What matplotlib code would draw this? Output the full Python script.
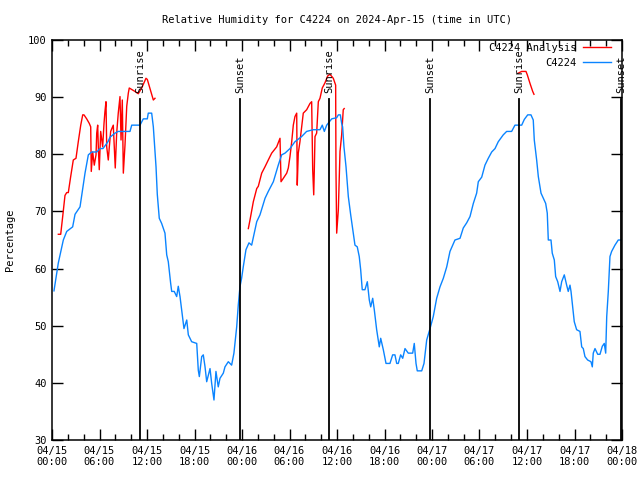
import numpy as np
import matplotlib
matplotlib.use('Agg')
import matplotlib.pyplot as plt
from datetime import datetime, timedelta

# hours since 2024-04-15 00:00 UTC
station_hours = [
    0.25, 0.80, 1.43, 1.86, 2.61, 2.91, 3.54, 3.88, 4.17, 4.59, 5.01, 5.65, 6.06, 6.44,
    7.07, 7.33, 7.96, 8.34, 9.85, 10.07, 11.12, 11.53, 12.04, 12.16, 12.59, 12.80, 13.14,
    13.30, 13.55, 13.85, 14.27, 14.49, 14.69, 14.99, 15.12, 15.44, 15.75, 15.95, 16.17,
    16.38, 16.67, 17.02, 17.22, 17.64, 18.28, 18.48, 18.61, 18.91, 19.11, 19.33, 19.54,
    19.96, 20.17, 20.46, 20.71, 21.00, 21.22, 21.64, 21.85, 22.27, 22.69, 22.98, 23.33,
    23.53, 23.74, 23.95, 24.16, 24.50, 24.88, 25.22, 25.86, 26.27, 26.91, 27.32, 27.96,
    28.58, 29.01, 29.43, 30.06, 30.69, 31.53, 32.16, 33.00, 33.85, 34.14, 34.40, 34.70,
    35.33, 35.96, 36.17, 36.42, 36.59, 36.71, 36.88, 37.14, 37.43, 37.73, 38.06, 38.27,
    38.56, 38.81, 38.99, 39.19, 39.53, 39.83, 40.08, 40.26, 40.51, 40.71, 41.01, 41.34,
    41.52, 41.85, 42.19, 42.69, 43.03, 43.32, 43.54, 43.74, 44.04, 44.30, 44.59, 45.00,
    45.56, 45.76, 45.98, 46.14, 46.70, 46.99, 47.33, 47.75, 48.16, 48.59, 49.01, 49.43,
    49.86, 50.27, 50.90, 51.54, 51.95, 52.38, 52.80, 53.22, 53.64, 53.85, 54.28, 54.69,
    55.11, 55.54, 55.96, 56.37, 57.00, 57.43, 58.06, 58.48, 58.90, 59.33, 59.66, 60.09,
    60.50, 60.79, 60.92, 61.22, 61.43, 61.77, 62.06, 62.36, 62.56, 62.69, 63.03, 63.19,
    63.45, 63.62, 63.88, 64.17, 64.38, 64.71, 65.01, 65.21, 65.43, 65.56, 65.72, 65.97,
    66.27, 66.69, 66.91, 67.11, 67.32, 67.66, 68.08, 68.25, 68.37, 68.59, 68.93, 69.22,
    69.51, 69.76, 69.94, 70.07, 70.27, 70.48, 70.69, 71.11, 71.53, 71.87,
]
station_rh = [
    56.1, 61.0, 65.0, 66.5, 67.3, 69.5, 70.8, 74.0, 76.7, 79.9, 80.4, 80.4, 81.0, 81.0,
    82.2, 83.0, 83.7, 84.0, 84.0, 85.1, 85.1, 86.2, 86.2, 87.2, 87.2, 84.8, 77.8,
    73.0, 68.8, 67.9, 66.2, 62.4, 61.2, 57.4, 56.0, 56.0, 55.1, 56.9, 55.1,
    52.8, 49.5, 51.0, 48.4, 47.2, 46.9, 42.2, 41.1, 44.6, 44.9, 42.8, 40.2,
    42.5, 39.9, 37.0, 42.0, 39.3, 40.8, 41.7, 42.8, 43.7, 43.1, 45.2, 49.8,
    53.6, 56.8, 58.3, 60.3, 63.3, 64.5, 64.1, 68.2, 69.4, 72.3, 73.5, 75.2,
    78.1, 79.9, 80.2, 81.0, 82.2, 83.1, 84.0, 84.3, 84.3, 85.1, 84.0, 85.1,
    86.2, 86.4, 86.9, 86.9, 85.4, 84.8, 81.3, 77.8, 72.6, 69.4, 66.2, 64.1,
    63.8, 62.1, 59.8, 56.3, 56.3, 57.7, 54.5, 53.3, 54.8, 52.8, 49.3, 46.3,
    47.8, 45.8, 43.4, 43.4, 44.9, 44.9, 43.4, 43.4, 44.9, 44.3, 46.0, 45.2,
    45.2, 46.9, 43.4, 42.1, 42.1, 43.4, 47.5, 49.5, 51.6, 54.8, 56.8, 58.3,
    60.3, 63.0, 65.0, 65.3, 67.1, 68.0, 69.1, 71.4, 73.2, 75.2, 76.0, 78.1,
    79.3, 80.4, 81.0, 82.2, 83.4, 84.0, 84.0, 85.1, 85.1, 85.1, 86.1, 86.9,
    86.9, 86.0, 82.5, 79.0, 76.1, 73.2, 72.3, 71.4, 69.7, 65.0, 65.0, 62.7,
    61.5, 58.6, 57.7, 56.0, 57.7, 58.9, 57.1, 56.0, 57.1, 56.0, 53.9, 50.7,
    49.3, 49.0, 46.3, 46.0, 44.6, 44.0, 43.7, 42.8, 45.2, 46.0, 45.0, 45.0,
    46.4, 46.9, 45.2, 51.6, 56.0, 62.1, 63.0, 64.1, 65.0, 65.0,
]

nan = np.nan
analysis_hours = [
    0.80, 1.10, 1.35, 1.64, 1.86, 2.06, 2.36, 2.69, 3.03, 3.32, 3.63, 3.88, 4.04, 4.38,
    4.71, 4.89, 4.96, 5.14, 5.34, 5.56, 5.65, 5.77, 5.85, 5.97, 6.15, 6.40, 6.57, 6.69,
    6.82, 6.91, 7.11, 7.24, 7.41, 7.74, 7.99, 8.17, 8.37, 8.59, 8.72, 8.88, 9.01, 9.22,
    9.44, 9.64, 9.76, 10.48, 10.90, 11.33, 11.87, 12.04, 12.80, 13.01,
    nan,
    24.80, 25.01, 25.43, 25.86, 26.06, 26.49, 26.90, 27.32, 27.75, 28.38, 28.80, 28.93,
    29.22, 29.65, 29.85, 30.06, 30.28, 30.48, 30.69, 30.91, 30.98, 31.11, 31.32, 31.74,
    32.17, 32.59, 32.80, 32.93, 33.06, 33.13, 33.22, 33.43, 33.64, 33.85, 34.14, 34.48,
    34.82, 35.11, 35.53, 35.83, 35.87, 35.96, 36.17, 36.38, 36.59, 36.79, 36.91,
    nan,
    58.90, 59.33, 59.87, 60.04, 60.38, 60.72, 60.88,
]
analysis_rh = [
    66.0, 66.0, 69.1, 72.8, 73.3, 73.3, 76.1, 79.0, 79.3, 82.2, 85.1, 86.9, 86.9, 86.2,
    85.4, 84.8, 77.0, 80.4, 78.1, 79.9, 83.7, 85.1, 81.3, 77.3, 84.0, 81.3, 85.4, 87.5,
    89.2, 81.3, 79.0, 81.3, 84.0, 85.1, 77.6, 83.7, 87.2, 90.1, 82.5, 89.5, 76.7, 81.6,
    88.4, 90.7, 91.6, 91.0, 90.6, 91.6, 93.3, 93.1, 89.5, 89.8,
    nan,
    67.0, 68.5, 71.7, 74.0, 74.4, 76.7, 77.8, 79.0, 80.2, 81.3, 82.8, 75.2,
    75.8, 76.7, 77.6, 79.6, 82.2, 85.1, 86.6, 87.2, 74.6, 80.2, 82.2, 87.2,
    87.8, 88.9, 89.2, 77.3, 72.9, 77.0, 83.1, 83.7, 89.2, 89.8, 91.6, 92.5,
    93.7, 94.0, 93.3, 92.1, 77.3, 66.2, 70.3, 80.5, 83.4, 87.8, 88.0,
    nan,
    94.2, 94.5, 94.5, 93.9, 92.4, 91.0, 90.5,
]

sun_hours = [11.12, 23.75, 35.05, 47.78, 59.0, 71.85]
sun_labels = ['Sunrise', 'Sunset', 'Sunrise', 'Sunset', 'Sunrise', 'Sunset']

start = datetime(2024, 4, 15)
plt.rcParams['font.family'] = 'DejaVu Sans Mono'
plt.rcParams['font.size'] = 7.5

fig = plt.figure(figsize=(6.4, 4.8), dpi=100)
ax = fig.add_axes([52 / 640, 40 / 480, 570 / 640, 400 / 480])

ax.plot(analysis_hours, analysis_rh, color='#ff0000', lw=1.0, label='C4224 Analysis')
ax.plot(station_hours, station_rh, color='#0a84ff', lw=1.0, label='C4224')

for h, lab in zip(sun_hours, sun_labels):
    ax.plot([h, h], [30, 89.7], color='black', lw=1.3)
    ax.text(h, 90.8, lab, rotation=90, ha='center', va='bottom', fontsize=7.5)

ax.set_xlim(0, 72)
ax.set_ylim(30, 100)
major = np.arange(0, 73, 6)
ax.set_xticks(major)
ax.set_xticks(np.arange(0, 73, 2), minor=True)
ax.set_xticklabels([(start + timedelta(hours=int(h))).strftime('%m/%d\n%H:%M') for h in major])
ax.set_yticks(np.arange(30, 101, 10))
ax.tick_params(which='both', direction='in', top=True, right=True, width=1.0)
ax.tick_params(which='major', length=8, pad=4)
ax.tick_params(which='minor', length=4)
for s in ax.spines.values():
    s.set_linewidth(1.1)

ax.set_ylabel('Percentage', labelpad=9)
ax.set_title('Relative Humidity for C4224 on 2024-Apr-15 (time in UTC)', pad=12, fontsize=7.5)
ax.legend(loc='upper right', bbox_to_anchor=(1.0, 1.02), frameon=False, markerfirst=False,
          handlelength=2.7, borderaxespad=0.75, borderpad=0.3, labelspacing=0.5,
          handletextpad=0.6)

fig.savefig('out.png', dpi=100)
